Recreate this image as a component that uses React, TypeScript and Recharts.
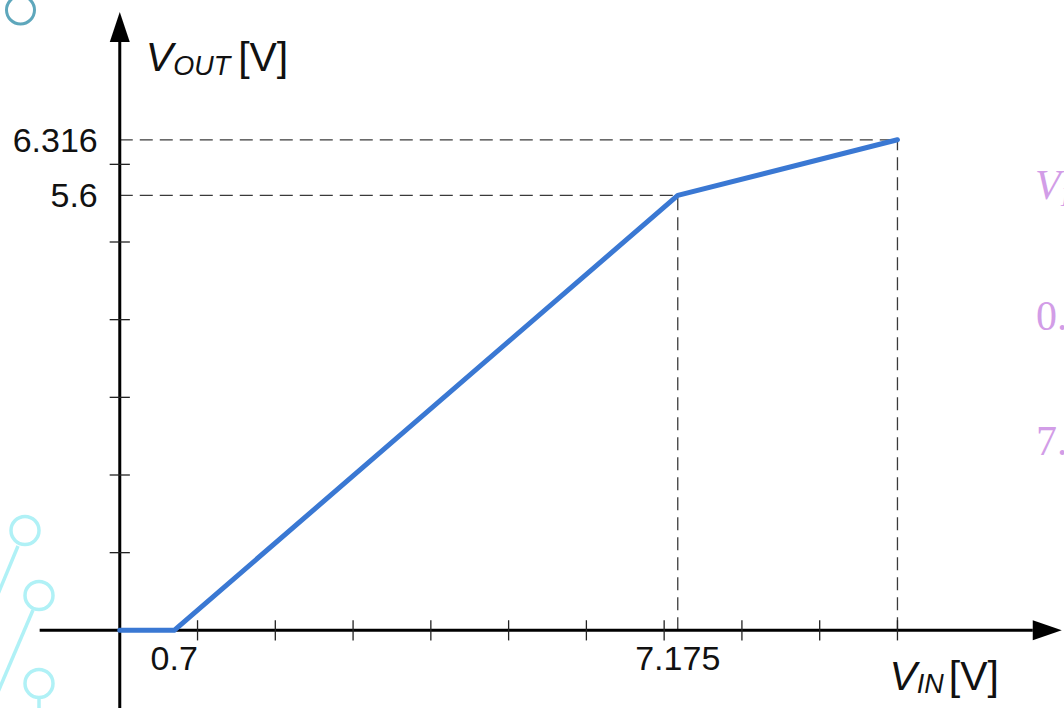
import { LineChart, Line, XAxis, YAxis, ReferenceLine, ReferenceDot } from 'recharts';

// transfer curve V_OUT(V_IN)
const vinPoints = [0, 0.7, 7.175, 10];
const voutPoints = [0, 0, 5.6, 6.316];

// unlabeled tick marks on both axes
const xTickMarks = [1, 2, 3, 4, 5, 6, 7, 8, 9, 10];
const yTickMarks = [1, 2, 3, 4, 5, 6];

// labeled values
const xLabelValues = [0.7, 7.175];
const xLabelTexts = ['0.7', '7.175'];
const yLabelValues = [5.6, 6.316];
const yLabelTexts = ['5.6', '6.316'];

// corners that get dashed guide lines
const guideIdx = [2, 3];

// axis extents (data units)
const X_MIN = -1;
const X_MAX = 12;
const Y_MIN = -1;
const Y_MAX = 8;
const X_ARROW_BASE = 11.74;
const Y_ARROW_BASE = 7.574;
const TICK_HALF = 0.13;

const data = vinPoints.map((x, i) => ({ vin: x, vout: voutPoints[i] }));

const FONT = '"Liberation Sans", Arial, sans-serif';

function ArrowRight(props: any) {
  const { cx, cy } = props;
  return <path d={`M${cx},${cy - 10} L${cx + 29},${cy} L${cx},${cy + 10} Z`} fill="#000" />;
}

function ArrowUp(props: any) {
  const { cx, cy } = props;
  return <path d={`M${cx - 10},${cy} L${cx},${cy - 30} L${cx + 10},${cy} Z`} fill="#000" />;
}

const xTickLabel = (text: string) => (props: any) => (
  <text x={props.cx} y={props.cy + 40} textAnchor="middle" fontSize={34} fontFamily={FONT} fill="#111">
    {text}
  </text>
);

const yTickLabel = (text: string) => (props: any) => (
  <text x={props.cx - 22} y={props.cy + 12} textAnchor="end" fontSize={34} fontFamily={FONT} fill="#111">
    {text}
  </text>
);

function VoutTitle(props: any) {
  const { cx, cy } = props;
  return (
    <text x={cx + 26} y={cy + 29} fontFamily={FONT} fill="#111" fontSize={41}>
      <tspan fontStyle="italic">V</tspan>
      <tspan fontStyle="italic" fontSize={27} dy={4}>OUT</tspan>
      <tspan dx={8} dy={-4}>[V]</tspan>
    </text>
  );
}

function VinTitle(props: any) {
  const { cx, cy } = props;
  return (
    <text x={cx - 8} y={cy + 60} fontFamily={FONT} fill="#111" fontSize={41}>
      <tspan fontStyle="italic">V</tspan>
      <tspan fontStyle="italic" fontSize={27} dy={3}>IN</tspan>
      <tspan dx={5} dy={-3}>[V]</tspan>
    </text>
  );
}

function Decorations() {
  const teal = '#5ea7bc';
  const cyan = '#b0f1f6';
  const purple = '#d29de7';
  return (
    <svg width={1064} height={708} style={{ position: 'absolute', left: 0, top: 0 }}>
      <circle cx={20.5} cy={10} r={14} fill="none" stroke={teal} strokeWidth={3} />
      <circle cx={25} cy={530.5} r={14} fill="none" stroke={cyan} strokeWidth={3.5} />
      <circle cx={39} cy={595.5} r={14} fill="none" stroke={cyan} strokeWidth={3.5} />
      <circle cx={39} cy={683.5} r={14} fill="none" stroke={cyan} strokeWidth={3.5} />
      <line x1={18} y1={546} x2={-2} y2={594} stroke={cyan} strokeWidth={3.5} />
      <line x1={33} y1={610} x2={-2} y2={692} stroke={cyan} strokeWidth={3.5} />
      <line x1={39} y1={699} x2={39} y2={710} stroke={cyan} strokeWidth={3.5} />
      <g fontFamily='"Liberation Serif", "DejaVu Serif", serif' fill={purple} fontSize={42}>
        <text x={1035} y={199}>
          <tspan fontStyle="italic">V</tspan>
          <tspan fontStyle="italic" fontSize={28} dy={7}>I</tspan>
        </text>
        <text x={1036} y={330}>0.</text>
        <text x={1036} y={455}>7.</text>
      </g>
    </svg>
  );
}

export default function App() {
  return (
    <div
      style={{
        position: 'absolute',
        left: 0,
        top: 0,
        width: 1064,
        height: 708,
        overflow: 'hidden',
        background: '#fff',
      }}
    >
      <Decorations />
      <div style={{ position: 'absolute', left: 0, top: 0 }}>
        <LineChart width={1064} height={708} data={data} margin={{ top: 9, right: 11, bottom: 0, left: 42 }}>
          <XAxis type="number" dataKey="vin" domain={[X_MIN, X_MAX]} hide allowDataOverflow />
          <YAxis type="number" domain={[Y_MIN, Y_MAX]} hide allowDataOverflow />

          {/* dashed guides */}
          {guideIdx.map((i) => (
            <ReferenceLine
              key={`h${i}`}
              segment={[{ x: 0, y: voutPoints[i] }, { x: vinPoints[i], y: voutPoints[i] }]}
              stroke="#3a3a3a"
              strokeWidth={1.3}
              strokeDasharray="13 7"
            />
          ))}
          {guideIdx.map((i) => (
            <ReferenceLine
              key={`v${i}`}
              segment={[{ x: vinPoints[i], y: 0 }, { x: vinPoints[i], y: voutPoints[i] }]}
              stroke="#3a3a3a"
              strokeWidth={1.3}
              strokeDasharray="13 7"
            />
          ))}

          {/* axes */}
          <ReferenceLine segment={[{ x: X_MIN - 0.03, y: 0 }, { x: X_ARROW_BASE, y: 0 }]} stroke="#000" strokeWidth={3} ifOverflow="visible" />
          <ReferenceLine segment={[{ x: 0, y: Y_MIN }, { x: 0, y: Y_ARROW_BASE }]} stroke="#000" strokeWidth={3} />
          <ReferenceDot x={X_ARROW_BASE} y={0} r={0} shape={ArrowRight} />
          <ReferenceDot x={0} y={Y_ARROW_BASE} r={0} shape={ArrowUp} />

          {xTickMarks.map((t) => (
            <ReferenceLine key={`xt${t}`} segment={[{ x: t, y: -TICK_HALF }, { x: t, y: TICK_HALF }]} stroke="#222" strokeWidth={1.3} />
          ))}
          {yTickMarks.map((t) => (
            <ReferenceLine key={`yt${t}`} segment={[{ x: -TICK_HALF, y: t }, { x: TICK_HALF, y: t }]} stroke="#222" strokeWidth={1.3} />
          ))}

          {xLabelValues.map((v, i) => (
            <ReferenceDot key={`xl${i}`} x={v} y={0} r={0} shape={xTickLabel(xLabelTexts[i])} />
          ))}
          {yLabelValues.map((v, i) => (
            <ReferenceDot key={`yl${i}`} x={0} y={v} r={0} shape={yTickLabel(yLabelTexts[i])} />
          ))}

          <ReferenceDot x={0} y={Y_ARROW_BASE} r={0} shape={VoutTitle} />
          <ReferenceDot x={10} y={0} r={0} shape={VinTitle} />

          <Line
            type="linear"
            dataKey="vout"
            stroke="#3a78d3"
            strokeWidth={5}
            strokeLinecap="round"
            strokeLinejoin="round"
            dot={false}
            activeDot={false}
            isAnimationActive={false}
          />
        </LineChart>
      </div>
    </div>
  );
}
